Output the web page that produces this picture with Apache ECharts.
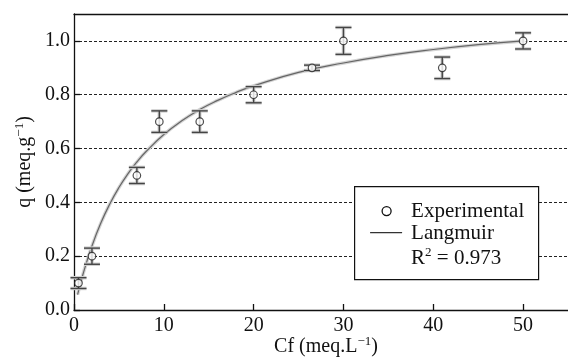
<!DOCTYPE html>
<html>
<head>
<meta charset="utf-8">
<script src="https://cdn.jsdelivr.net/npm/echarts@6/dist/echarts.min.js"></script>
<style>
html,body{margin:0;padding:0;background:#fff;}
#chart{width:568px;height:359px;}
</style>
</head>
<body>
<div id="chart"></div>
<script>
// Experimental data
var cf = [0.5, 2, 7, 9.5, 14, 20, 26.5, 30, 41, 50];
var q = [0.10, 0.20, 0.50, 0.70, 0.70, 0.80, 0.90, 1.00, 0.90, 1.00];
var qErr = [0.02, 0.03, 0.03, 0.04, 0.04, 0.03, 0.01, 0.05, 0.04, 0.03];
// Langmuir curve
var langCf = [0.4, 1, 2, 3, 4, 5, 6, 7, 8, 10, 12, 14, 16, 18, 20, 25, 30, 35, 40, 45, 50];
var langQ = [0.057, 0.133, 0.238, 0.324, 0.395, 0.455, 0.506, 0.550, 0.588, 0.652, 0.703, 0.745, 0.779, 0.808, 0.833, 0.883, 0.918, 0.946, 0.968, 0.986, 1.000];
// Axis ticks
var xTicks = [0, 10, 20, 30, 40, 50];
var yTicks = [0, 0.2, 0.4, 0.6, 0.8, 1.0];
var legendNames = ['Experimental', 'Langmuir'];
var r2Text = '{n|R}{sup|2}{n| = 0.973}';

var FONT = 'Liberation Serif';
var chart = echarts.init(document.getElementById('chart'), null, {renderer: 'canvas'});

var errData = cf.map(function (c, i) { return [c, q[i], qErr[i]]; });
var ptData = cf.map(function (c, i) { return [c, q[i]]; });
var curveData = langCf.map(function (c, i) { return [c, langQ[i]]; });

var supRich = {
  sup: {fontSize: 13, fontFamily: FONT, color: '#111', verticalAlign: 'top', lineHeight: 14},
  n: {fontSize: 20, fontFamily: FONT, color: '#111', lineHeight: 24}
};
var tickRich = {
  t: {fontSize: 20, fontFamily: FONT, color: '#111', lineHeight: 22}
};
var legRich = {
  sup: {fontSize: 13, fontFamily: FONT, fill: '#111', verticalAlign: 'top', lineHeight: 14},
  n: {fontSize: 21, fontFamily: FONT, fill: '#111', lineHeight: 24}
};

var option = {
  animation: false,
  backgroundColor: '#fff',
  textStyle: {fontFamily: FONT},
  grid: {left: 74, right: 0, top: 14, bottom: 49, containLabel: false, outerBoundsMode: 'none'},
  xAxis: [{
    type: 'value', min: 0, max: 55, interval: 10,
    name: '{n|Cf (meq.L}{sup|\u22121}{n|)}',
    nameLocation: 'middle', nameGap: 25, nameMoveOverlap: false,
    nameTextStyle: {rich: supRich, padding: [0, 0, 0, 10]},
    axisLine: {show: true, onZero: false, lineStyle: {color: '#111', width: 1.3}},
    axisTick: {show: true, inside: true, length: 6, lineStyle: {color: '#111', width: 1.3}, customValues: xTicks},
    axisLabel: {show: true, margin: 5, customValues: xTicks, rich: tickRich,
      formatter: function (v) { return '{t|' + v + '}'; }},
    splitLine: {show: false}
  }, {
    type: 'value', min: 0, max: 55, position: 'top',
    axisLine: {show: true, onZero: false, lineStyle: {color: '#111', width: 1.3}},
    axisTick: {show: false}, axisLabel: {show: false}, splitLine: {show: false}
  }],
  yAxis: [{
    type: 'value', min: 0, max: 1.1, interval: 0.2,
    name: '{n|q (meq.g}{sup|\u22121}{n|)}',
    nameLocation: 'middle', nameGap: 37, nameMoveOverlap: false,
    nameTextStyle: {rich: supRich},
    axisLine: {show: true, onZero: false, lineStyle: {color: '#111', width: 1.3}},
    axisTick: {show: true, inside: true, length: 6, lineStyle: {color: '#111', width: 1.3}, customValues: yTicks},
    axisLabel: {show: true, margin: 4, customValues: yTicks, rich: tickRich,
      formatter: function (v) { return '{t|' + v.toFixed(1) + '}'; }},
    splitLine: {show: true, lineStyle: {color: '#222', width: 1, type: [3, 2]}}
  }],
  series: [{
    type: 'line', name: 'halo', data: curveData, smooth: true, symbol: 'none',
    lineStyle: {color: '#d4d4d4', width: 3.5}, z: 2, silent: true
  }, {
    type: 'line', name: legendNames[1], data: curveData, smooth: true, symbol: 'none',
    lineStyle: {color: '#666', width: 1.2}, z: 3
  }, {
    type: 'custom', name: 'errors', data: errData, z: 4,
    renderItem: function (params, api) {
      var x = api.value(0), y = api.value(1), e = api.value(2);
      var top = api.coord([x, y + e]);
      var bot = api.coord([x, y - e]);
      var h = 8;
      function ln(x1, y1, x2, y2, color, w) {
        return {type: 'line', shape: {x1: x1, y1: y1, x2: x2, y2: y2}, style: {stroke: color, lineWidth: w}};
      }
      var els = [];
      var specs = [['#d0d0d0', 3.5], ['#444', 1.4]];
      specs.forEach(function (s) {
        els.push(ln(top[0], top[1], bot[0], bot[1], s[0], s[1]));
        els.push(ln(top[0] - h, top[1], top[0] + h, top[1], s[0], s[1]));
        els.push(ln(bot[0] - h, bot[1], bot[0] + h, bot[1], s[0], s[1]));
      });
      return {type: 'group', children: els};
    }
  }, {
    type: 'scatter', name: legendNames[0], data: ptData, symbol: 'circle', symbolSize: 7.5, z: 5,
    itemStyle: {color: '#fff', borderColor: '#222', borderWidth: 1.2}
  }],
  graphic: [{
    type: 'group', left: 354, top: 186, z: 100,
    children: [
      {type: 'rect', z: 100, shape: {x: 0.5, y: 0.5, width: 184, height: 93}, style: {fill: '#fff', stroke: '#111', lineWidth: 1.2}},
      {type: 'circle', z: 101, shape: {cx: 32.5, cy: 25, r: 4.5}, style: {fill: '#fff', stroke: '#111', lineWidth: 1.3}},
      {type: 'line', z: 101, shape: {x1: 16, y1: 46.5, x2: 48, y2: 46.5}, style: {stroke: '#333', lineWidth: 1.2}},
      {type: 'text', z: 101, x: 57, y: 25, style: {text: legendNames[0], font: '21px ' + FONT, fill: '#111', verticalAlign: 'middle'}},
      {type: 'text', z: 101, x: 57, y: 47, style: {text: legendNames[1], font: '21px ' + FONT, fill: '#111', verticalAlign: 'middle'}},
      {type: 'text', z: 101, x: 57, y: 72, style: {text: r2Text, font: '21px ' + FONT, fill: '#111', rich: legRich, verticalAlign: 'middle'}}
    ]
  }]
};
chart.setOption(option);
</script>
</body>
</html>
